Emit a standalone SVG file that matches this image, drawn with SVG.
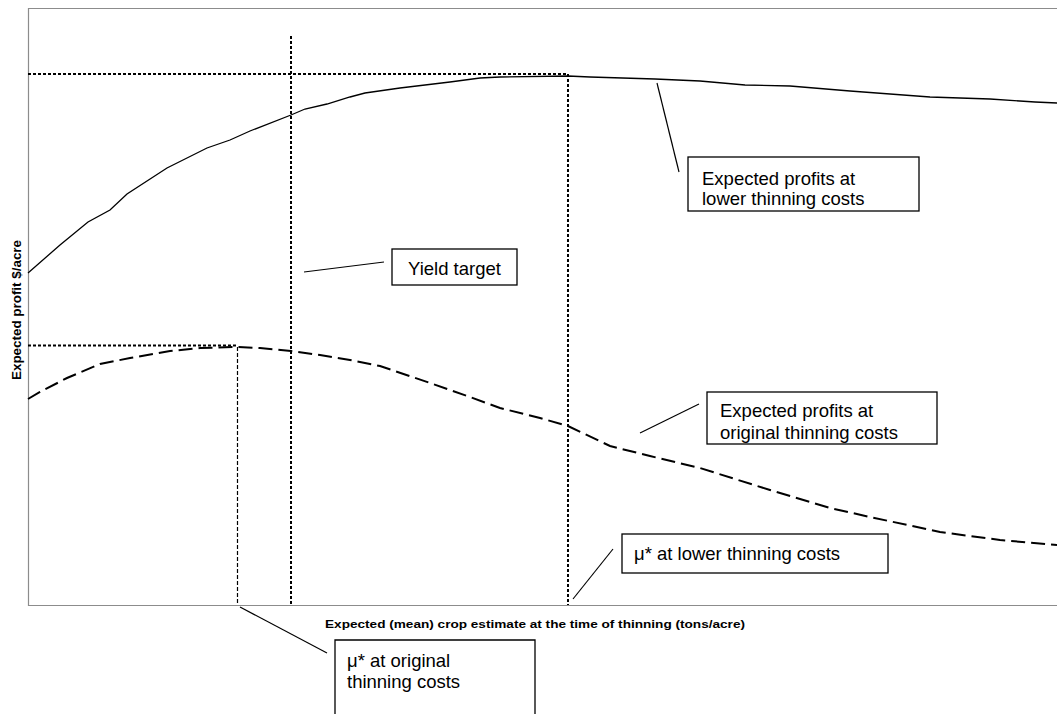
<svg xmlns="http://www.w3.org/2000/svg" width="1057" height="714" viewBox="0 0 1057 714">
<style>
  .lbl { font-family: "Liberation Sans", Arial, sans-serif; font-size: 18.5px; fill: #000; }
  .axis-lbl { font-family: "Liberation Sans", Arial, sans-serif; font-size: 11px; font-weight: bold; fill: #000; }
  .box { fill: #fff; stroke: #000; stroke-width: 1.3; }
  .frame { fill: none; stroke: #8c8c8c; stroke-width: 1.2; }
  .guide { fill: none; stroke: #000; stroke-width: 2; stroke-dasharray: 3 2; }
  .guide-thin { fill: none; stroke: #000; stroke-width: 1.2; stroke-dasharray: 4 2; }
  .leader { fill: none; stroke: #000; stroke-width: 1.2; }
</style>
<rect width="1057" height="714" fill="#fff"/>

<g id="plot-frame">
  <path class="frame" d="M1057,8.5 H28.5 V605.5 H1057"/>
</g>

<g id="axis-labels">
  <text class="axis-lbl" x="325" y="628" textLength="420" lengthAdjust="spacingAndGlyphs">Expected (mean) crop estimate at the time of thinning (tons/acre)</text>
  <text class="axis-lbl" style="font-size:13px" transform="translate(21,310) rotate(-90)" text-anchor="middle" textLength="140" lengthAdjust="spacingAndGlyphs">Expected profit $/acre</text>
</g>

<g id="guides">
  <line class="guide" x1="28" y1="74" x2="568" y2="74"/>
  <line class="guide" x1="291" y1="36" x2="291" y2="605"/>
  <line class="guide" x1="568" y1="74" x2="568" y2="605"/>
  <line class="guide" stroke-width="1.6" x1="28" y1="345.5" x2="237" y2="345.5"/>
  <line class="guide-thin" x1="237.5" y1="347" x2="237.5" y2="605"/>
</g>

<g id="curve-lower-costs">
  <polyline fill="none" stroke="#000" stroke-width="1.3" points="28,273 60,245 88,222 110,210 127,194 167,168 207,148 230,140 250,131 291,115 305,109 327,104 350,97 365,93 400,88 450,82 480,78 500,77 568,76 590,77 655,79 700,81 745,85 790,86 850,91 930,97 990,99 1035,102 1057,103"/>
</g>

<g id="curve-original-costs">
  <polyline fill="none" stroke="#000" stroke-width="2" stroke-dasharray="14 6" points="28,399 40,392 67,378 100,364 130,358 170,351 200,348 237,347 260,348 291,351 320,355 350,360 380,366 430,383 470,397 500,408 540,418 568,426 610,446 650,456 700,468 770,490 830,508 870,517 940,532 1000,540 1057,545"/>
</g>

<g id="connectors">
  <line class="leader" x1="304" y1="272" x2="384" y2="262"/>
  <line class="leader" x1="657" y1="83" x2="679" y2="172"/>
  <line class="leader" x1="640" y1="433" x2="699" y2="404"/>
  <line class="leader" x1="573" y1="599" x2="613" y2="549"/>
  <line class="leader" x1="240" y1="607" x2="327" y2="653"/>
</g>

<g id="node-yield-target">
  <rect class="box" x="392" y="249" width="125" height="36"/>
  <text class="lbl" x="408" y="275">Yield target</text>
</g>

<g id="node-lower-profits">
  <rect class="box" x="688" y="157" width="231" height="54"/>
  <text class="lbl" x="702" y="185">Expected profits at</text>
  <text class="lbl" x="702" y="205">lower thinning costs</text>
</g>

<g id="node-original-profits">
  <rect class="box" x="707" y="392" width="230" height="52"/>
  <text class="lbl" x="720" y="417">Expected profits at</text>
  <text class="lbl" x="720" y="439">original thinning costs</text>
</g>

<g id="node-mu-lower">
  <rect class="box" x="622" y="534" width="266" height="39"/>
  <text class="lbl" x="634" y="560">μ* at lower thinning costs</text>
</g>

<g id="node-mu-original">
  <path class="box" d="M335,716 V640 H535 V716"/>
  <text class="lbl" x="347" y="667">μ* at original</text>
  <text class="lbl" x="347" y="688">thinning costs</text>
</g>
</svg>
